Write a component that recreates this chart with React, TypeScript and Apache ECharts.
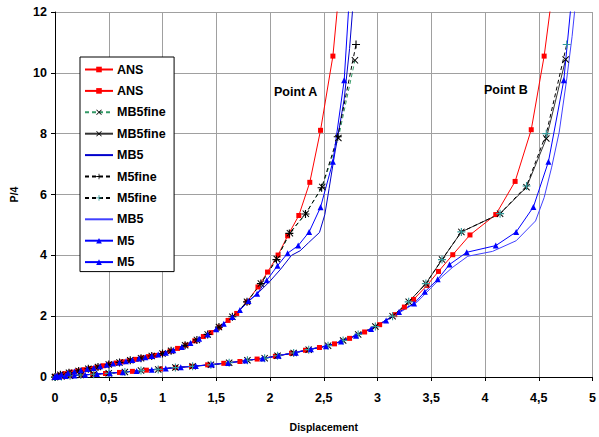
import React, { useEffect, useRef } from "react";
import * as echarts from "echarts";

// ---- data ----
const xTicks = ["0", "0,5", "1", "1,5", "2", "2,5", "3", "3,5", "4", "4,5", "5"];
const yTicks = [0, 2, 4, 6, 8, 10, 12];

const ansA = [[0,0],[0.01,0.03],[0.04,0.06],[0.09,0.11],[0.15,0.16],[0.21,0.2],[0.27,0.24],[0.33,0.28],[0.39,0.32],[0.45,0.37],[0.51,0.42],[0.57,0.46],[0.63,0.5],[0.69,0.54],[0.75,0.58],[0.81,0.63],[0.87,0.67],[0.93,0.71],[1.0,0.77],[1.07,0.85],[1.14,0.94],[1.22,1.05],[1.3,1.19],[1.38,1.33],[1.45,1.46],[1.53,1.64],[1.61,1.86],[1.69,2.09],[1.786,2.47],[1.888,2.96],[1.977,3.45],[2.075,4.01],[2.164,4.64],[2.268,5.31],[2.37,6.4],[2.47,8.11],[2.585,10.55],[2.65,13]];
const ansB = [[0,0],[0.03,0.01],[0.08,0.025],[0.15,0.04],[0.25,0.065],[0.35,0.09],[0.47,0.115],[0.6,0.15],[0.72,0.185],[0.85,0.225],[0.98,0.265],[1.12,0.31],[1.27,0.35],[1.42,0.4],[1.57,0.45],[1.72,0.51],[1.88,0.59],[2.05,0.68],[2.2,0.78],[2.33,0.88],[2.46,0.97],[2.6,1.09],[2.74,1.27],[2.88,1.48],[3.02,1.72],[3.16,2.05],[3.25,2.3],[3.336,2.55],[3.46,3.01],[3.567,3.47],[3.7,4.02],[3.86,4.67],[4.1,5.34],[4.28,6.43],[4.43,8.13],[4.55,10.55],[4.64,13]];
const mb5fineA = [[0,0],[0.05,0.07],[0.13,0.14],[0.22,0.2],[0.31,0.27],[0.4,0.33],[0.5,0.41],[0.6,0.48],[0.7,0.55],[0.8,0.62],[0.9,0.69],[1.0,0.77],[1.08,0.86],[1.21,1.04],[1.32,1.22],[1.42,1.4],[1.525,1.64],[1.65,1.98],[1.786,2.47],[1.915,3.07],[2.063,3.88],[2.185,4.73],[2.333,5.37],[2.486,6.25],[2.636,7.86],[2.79,10.41]];
const mb5fineB = [[0,0],[0.06,0.02],[0.14,0.04],[0.24,0.065],[0.36,0.09],[0.5,0.12],[0.65,0.165],[0.8,0.21],[0.96,0.25],[1.12,0.31],[1.28,0.35],[1.45,0.4],[1.62,0.47],[1.79,0.55],[1.95,0.62],[2.07,0.7],[2.22,0.79],[2.36,0.9],[2.54,1.03],[2.68,1.2],[2.82,1.4],[2.98,1.66],[3.14,2.0],[3.29,2.47],[3.45,3.07],[3.6,3.86],[3.78,4.77],[4.14,5.37],[4.386,6.24],[4.57,7.84],[4.75,10.44]];
const mb5A = [[0,0],[0.1,0.12],[0.3,0.26],[0.5,0.41],[0.7,0.55],[0.9,0.69],[1.1,0.88],[1.3,1.19],[1.5,1.57],[1.65,1.97],[1.79,2.45],[1.9,2.8],[2.0,3.15],[2.1,3.55],[2.2,4.0],[2.28,4.15],[2.36,4.42],[2.46,4.75],[2.51,5.34],[2.55,6.2],[2.6,7.3],[2.65,8.3],[2.69,9.14],[2.74,10.8],[2.78,12.6]];
const m5fineA = [[0,0],[0.05,0.07],[0.13,0.14],[0.22,0.2],[0.31,0.27],[0.4,0.33],[0.5,0.41],[0.6,0.48],[0.7,0.55],[0.8,0.62],[0.9,0.69],[1.0,0.77],[1.08,0.86],[1.21,1.04],[1.32,1.22],[1.42,1.4],[1.525,1.64],[1.65,1.98],[1.786,2.47],[1.915,3.07],[2.06,3.86],[2.18,4.72],[2.33,5.36],[2.48,6.22],[2.63,7.9],[2.8,10.93]];
const m5fineB = [[0,0],[0.06,0.02],[0.14,0.04],[0.24,0.065],[0.36,0.09],[0.5,0.12],[0.65,0.165],[0.8,0.21],[0.96,0.25],[1.12,0.31],[1.28,0.35],[1.45,0.4],[1.62,0.47],[1.79,0.55],[1.95,0.62],[2.07,0.7],[2.22,0.79],[2.36,0.9],[2.54,1.03],[2.68,1.2],[2.82,1.4],[2.98,1.66],[3.14,2.0],[3.29,2.47],[3.45,3.07],[3.6,3.86],[3.78,4.77],[4.14,5.37],[4.386,6.28],[4.57,8.0],[4.76,10.93]];
const mb5B = [[0,0],[0.2,0.055],[0.5,0.12],[0.8,0.21],[1.1,0.3],[1.4,0.39],[1.7,0.5],[2.0,0.65],[2.3,0.86],[2.6,1.09],[2.9,1.52],[3.15,2.0],[3.37,2.47],[3.49,2.9],[3.6,3.3],[3.7,3.61],[3.84,3.97],[4.07,4.13],[4.29,4.48],[4.47,5.13],[4.55,5.9],[4.62,6.9],[4.69,8.05],[4.76,9.8],[4.81,11.2],[4.85,12.6]];
const m5A = [[0,0],[0.02,0.05],[0.06,0.08],[0.12,0.13],[0.18,0.18],[0.24,0.22],[0.3,0.26],[0.36,0.3],[0.42,0.35],[0.48,0.4],[0.54,0.44],[0.6,0.48],[0.66,0.52],[0.72,0.56],[0.78,0.61],[0.84,0.65],[0.9,0.69],[0.96,0.74],[1.03,0.8],[1.1,0.88],[1.18,0.99],[1.26,1.12],[1.34,1.26],[1.42,1.4],[1.5,1.57],[1.57,1.75],[1.65,1.97],[1.72,2.2],[1.8,2.5],[1.88,2.74],[1.97,3.18],[2.07,3.66],[2.164,4.07],[2.262,4.32],[2.364,4.77],[2.47,5.58],[2.585,7.08],[2.69,9.76],[2.74,12.6]];
const m5B = [[0,0],[0.04,0.012],[0.1,0.03],[0.18,0.05],[0.28,0.07],[0.39,0.1],[0.51,0.125],[0.63,0.16],[0.76,0.2],[0.9,0.24],[1.03,0.28],[1.17,0.32],[1.31,0.36],[1.46,0.41],[1.61,0.46],[1.77,0.54],[1.93,0.61],[2.08,0.7],[2.24,0.8],[2.38,0.91],[2.52,1.01],[2.66,1.17],[2.8,1.36],[2.94,1.58],[3.08,1.86],[3.2,2.14],[3.34,2.42],[3.44,2.8],[3.56,3.21],[3.67,3.7],[3.83,4.1],[4.1,4.32],[4.29,4.77],[4.45,5.59],[4.59,7.08],[4.733,9.76],[4.81,12.6]];

const FONT = '"Liberation Sans", Arial, sans-serif';
const X_SYM = "path://M1,0 L5,4 L9,0 L10,1 L6,5 L10,9 L9,10 L5,6 L1,10 L0,9 L4,5 L0,1 Z";
const PLUS_SYM = "path://M4.3,0 H5.7 V4.3 H10 V5.7 H5.7 V10 H4.3 V5.7 H0 V4.3 H4.3 Z";

export default function App() {
  const ref = useRef<HTMLDivElement>(null);
  useEffect(() => {
    document.body.style.margin = "0";
    const chart = echarts.init(ref.current!, undefined, { renderer: "svg" });
    const mk = (name: string, data: number[][], o: any) => ({
      type: "line",
      name,
      data,
      clip: true,
      z: 2,
      ...o,
    });
    const series = [
      mk("ANS", ansA, { symbol: "rect", symbolSize: 5, itemStyle: { color: "#FF0000" }, lineStyle: { color: "#FF0000", width: 1 } }),
      mk("ANS ", ansB, { symbol: "rect", symbolSize: 5, itemStyle: { color: "#FF0000" }, lineStyle: { color: "#FF0000", width: 1 } }),
      mk("MB5fine", mb5fineA, { symbol: X_SYM, symbolSize: 7, itemStyle: { color: "#000000" }, lineStyle: { color: "#339966", width: 1, type: [4, 3] } }),
      mk("MB5fine ", mb5fineB, { symbol: X_SYM, symbolSize: 7, itemStyle: { color: "#000000" }, lineStyle: { color: "#333333", width: 1 } }),
      mk("MB5", mb5A, { symbol: "circle", showSymbol: false, symbolSize: 0, itemStyle: { color: "#0000CC" }, lineStyle: { color: "#0000CC", width: 1 } }),
      mk("M5fine", m5fineA, { symbol: PLUS_SYM, symbolSize: 8, itemStyle: { color: "#000000" }, lineStyle: { color: "#000000", width: 1, type: [4, 3] } }),
      mk("M5fine ", m5fineB, { symbol: PLUS_SYM, symbolSize: 8, itemStyle: { color: "#339999" }, lineStyle: { color: "#000000", width: 1, type: [4, 3] } }),
      mk("MB5 ", mb5B, { symbol: "circle", showSymbol: false, symbolSize: 0, itemStyle: { color: "#4040FF" }, lineStyle: { color: "#4040FF", width: 1 } }),
      mk("M5", m5A, { symbol: "triangle", symbolSize: 6, itemStyle: { color: "#0000FF" }, lineStyle: { color: "#0000FF", width: 1 } }),
      mk("M5 ", m5B, { symbol: "triangle", symbolSize: 6, itemStyle: { color: "#0000FF" }, lineStyle: { color: "#0000FF", width: 1 } }),
    ];
    const legendData = series.map((s: any) =>
      s.showSymbol === false ? { name: s.name, itemStyle: { opacity: 0 } } : { name: s.name }
    );
    chart.setOption({
      animation: false,
      backgroundColor: "#ffffff",
      grid: { left: 51, right: 5, top: 12, bottom: 56, containLabel: false },
      xAxis: {
        type: "value",
        min: 0,
        max: 5,
        interval: 0.5,
        name: "Displacement",
        nameLocation: "middle",
        nameGap: 44,
        nameTextStyle: { fontFamily: FONT, fontWeight: "bold", fontSize: 10.5, color: "#000" },
        axisLine: { show: true, lineStyle: { color: "#000", width: 1 } },
        axisTick: { show: true, length: 4, lineStyle: { color: "#000" } },
        axisLabel: {
          margin: 14,
          fontFamily: FONT,
          fontWeight: "bold",
          fontSize: 12.5,
          color: "#000",
          formatter: (v: number) => xTicks[Math.round(v * 2)] ?? "",
        },
        splitLine: { show: true, lineStyle: { color: "#A0A0A0", width: 1 } },
      },
      yAxis: {
        type: "value",
        min: 0,
        max: 12,
        interval: 2,
        name: "P/4",
        nameLocation: "middle",
        nameGap: 36,
        nameRotate: 90,
        nameTextStyle: { fontFamily: FONT, fontWeight: "bold", fontSize: 10.5, color: "#000" },
        axisLine: { show: true, lineStyle: { color: "#000", width: 1 } },
        axisTick: { show: true, length: 4, lineStyle: { color: "#000" } },
        axisLabel: {
          margin: 8,
          fontFamily: FONT,
          fontWeight: "bold",
          fontSize: 12.5,
          color: "#000",
          formatter: (v: number) => (yTicks.includes(v) ? String(v) : ""),
        },
        splitLine: { show: true, lineStyle: { color: "#A0A0A0", width: 1 } },
      },
      legend: {
        data: legendData,
        orient: "vertical",
        left: 80,
        top: 57,
        itemWidth: 28,
        itemHeight: 7,
        itemGap: 8.4,
        padding: [6, 5, 3, 4],
        backgroundColor: "#ffffff",
        borderColor: "#000000",
        borderWidth: 1,
        borderRadius: 0,
        selectedMode: false,
        textStyle: { fontFamily: FONT, fontWeight: "bold", fontSize: 12.5, color: "#000", padding: [0, 0, 0, -1] },
        z: 10,
      },
      graphic: [
        { type: "text", left: 274, top: 85, z: 20, style: { text: "Point A", fontFamily: FONT, fontWeight: "bold", fontSize: 12.5, fill: "#000" } },
        { type: "text", left: 484, top: 83, z: 20, style: { text: "Point B", fontFamily: FONT, fontWeight: "bold", fontSize: 12.5, fill: "#000" } },
      ],
      series,
    });
    return () => chart.dispose();
  }, []);
  return <div ref={ref} style={{ width: 599, height: 437 }} />;
}
